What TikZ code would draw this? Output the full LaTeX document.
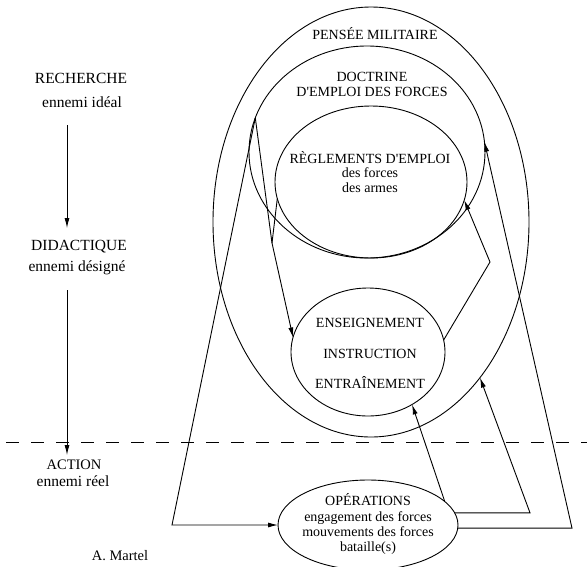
\documentclass[tikz,border=0pt]{standalone}
\usepackage{fontspec}
\setmainfont{Liberation Serif}
\usetikzlibrary{shapes.geometric,arrows.meta}
\begin{document}
\begin{tikzpicture}[x=1pt,y=-1pt,
  oval/.style={ellipse,draw,line width=0.9pt,inner sep=0pt,outer sep=0pt},
  lbl/.style={anchor=base,inner sep=0pt,font=\fontsize{14}{16}\selectfont},
  side/.style={anchor=base,inner sep=0pt,font=\fontsize{15.5}{18}\selectfont},
  conn/.style={line width=0.9pt},
  arr/.style={conn,-{Latex[length=10pt,width=5pt]}},
  sep/.style={line width=0.9pt,dash pattern=on 13pt off 12pt}
]
\useasboundingbox (0,0) rectangle (587,566);
\fill[white] (0,0) rectangle (587,566);

% ellipses
\node[oval,minimum width=316pt,minimum height=430pt] (pensee) at (371,222) {};
\node[oval,minimum width=236pt,minimum height=212pt] (doctrine) at (367,152) {};
\node[oval,minimum width=192pt,minimum height=152pt] (reglements) at (371,182) {};
\node[oval,minimum width=154pt,minimum height=128pt] (enseign) at (368,352) {};
\node[oval,minimum width=180pt,minimum height=90pt] (operations) at (368,525) {};

% texts in ellipses
\node[lbl] (tpensee) at (375,39) {PENSÉE MILITAIRE};
\node[lbl] (tdoc1) at (372,81) {DOCTRINE};
\node[lbl] (tdoc2) at (372,96) {D\textquotesingle EMPLOI DES FORCES};
\node[lbl] (treg1) at (370,163) {RÈGLEMENTS D\textquotesingle EMPLOI};
\node[lbl] (treg2) at (370,177.5) {des forces};
\node[lbl] (treg3) at (370,192.5) {des armes};
\node[lbl] (tens1) at (370,327) {ENSEIGNEMENT};
\node[lbl] (tens2) at (370,358) {INSTRUCTION};
\node[lbl] (tens3) at (370,388) {ENTRAÎNEMENT};
\node[lbl] (top1) at (368,505) {OPÉRATIONS};
\node[lbl] (top2) at (368,521) {engagement des forces};
\node[lbl] (top3) at (368,536) {mouvements des forces};
\node[lbl] (top4) at (368,551) {bataille(s)};

% left column
\node[side] (recherche) at (81,83) {RECHERCHE};
\node[side] (ideal) at (82,107.5) {ennemi idéal};
\node[side] (didactique) at (79,250) {DIDACTIQUE};
\node[side] (designe) at (77,271) {ennemi désigné};
\node[lbl,font=\fontsize{14.5}{17}\selectfont] (action) at (74,469) {ACTION};
\node[side] (reel) at (73,486) {ennemi réel};
\node[lbl,font=\fontsize{14.5}{17}\selectfont] (martel) at (120,560) {A. Martel};

\coordinate (l1s) at (67,125);
\coordinate (l1e) at (67,228);
\coordinate (l2s) at (67,290);
\coordinate (l2e) at (67,455);
\draw[arr] (l1s) -- (l1e);
\draw[arr] (l2s) -- (l2e);

% dashed separator
\coordinate (dl) at (6,442);
\coordinate (dr) at (587,442);
\draw[sep] (dl) -- (dr);

% connectors
\coordinate (cA) at (172,525);
\draw[arr] (doctrine.163) -- (cA) -- (operations.west);
\coordinate (mB) at (272,243);
\draw[conn] (doctrine.163) -- (mB);
\draw[conn] (reglements.190) -- (mB);
\draw[arr] (mB) -- (enseign.169);
\coordinate (cC) at (490,262);
\draw[arr] (enseign.9) -- (cC) -- (reglements.-11);
\coordinate (cD) at (572,527);
\draw[arr] (operations.-2) -- (operations.-2 -| cD) -- (doctrine.5);
\draw[arr] (operations.17) -- (enseign.-50);
\coordinate (cF) at (530,512);
\draw[arr] (operations.8) -- (operations.8 -| cF) -- (pensee.-55);
\end{tikzpicture}
\end{document}
